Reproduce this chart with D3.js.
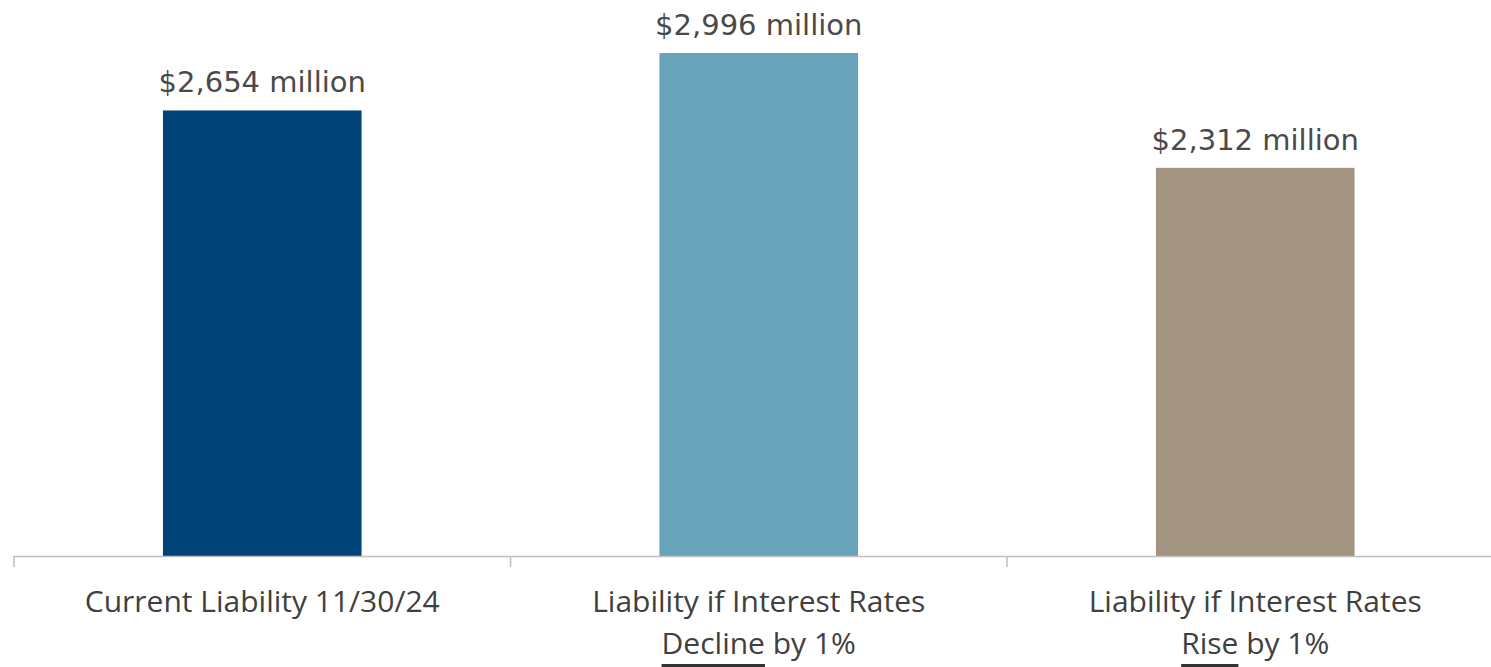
<!DOCTYPE html>
<html>
<head>
<meta charset="utf-8">
<script src="https://cdn.jsdelivr.net/npm/d3@7"></script>
<style>
  html, body { margin: 0; padding: 0; background: #ffffff; }
  svg { display: block; }
</style>
</head>
<body>
<svg id="chart" width="1491" height="667"></svg>
<script>
// Pension liability under interest-rate scenarios ($ millions)
const categories = ["current", "decline", "rise"];
const labelLine1 = ["Current Liability 11/30/24", "Liability if Interest Rates", "Liability if Interest Rates"];
const labelLine2Underlined = ["", "Decline", "Rise"];
const labelLine2Rest = ["", " by 1%", " by 1%"];
const values = [2654, 2996, 2312];
const barColors = ["#004379", "#68a3bb", "#a39381"];

const svg = d3.select("#chart");

const x = d3.scaleBand()
  .domain(categories)
  .range([14, 1503.5])
  .paddingInner(0.6)
  .paddingOuter(0.3);

const y = d3.scaleLinear()
  .domain([0, 3300])
  .range([556, 2]);

// bars
svg.append("g").selectAll("rect")
  .data(values)
  .join("rect")
  .attr("x", (d, i) => x(categories[i]))
  .attr("width", x.bandwidth())
  .attr("y", d => y(d))
  .attr("height", d => y(0) - y(d))
  .attr("fill", (d, i) => barColors[i]);

// value labels
svg.append("g").selectAll("text")
  .data(values)
  .join("text")
  .attr("x", (d, i) => x(categories[i]) + x.bandwidth() / 2)
  .attr("y", d => y(d) - 18)
  .attr("text-anchor", "middle")
  .attr("font-family", "'DejaVu Sans', sans-serif")
  .attr("font-size", 29)
  .attr("fill", "#4a4a4a")
  .text(d => "$" + d3.format(",")(d) + " million");

// baseline axis with ticks at band edges
const axisG = svg.append("g").attr("stroke", "#bfbfbf").attr("stroke-width", 1.5);
axisG.append("line")
  .attr("x1", x.range()[0]).attr("x2", x.range()[1])
  .attr("y1", y(0) + 0.5).attr("y2", y(0) + 0.5);
const step = x.step();
const edges = d3.range(categories.length + 1).map(i => x.range()[0] + i * step);
axisG.selectAll("line.tick")
  .data(edges)
  .join("line")
  .attr("class", "tick")
  .attr("x1", d => d).attr("x2", d => d)
  .attr("y1", y(0)).attr("y2", y(0) + 11);

// category labels
const catG = svg.append("g")
  .attr("font-family", "'Open Sans', sans-serif")
  .attr("font-size", 30)
  .attr("fill", "#404040");

categories.forEach((c, i) => {
  const cx = x(c) + x.bandwidth() / 2;
  catG.append("text")
    .attr("x", cx).attr("y", 612)
    .attr("text-anchor", "middle")
    .text(labelLine1[i]);
  if (labelLine2Underlined[i]) {
    const t = catG.append("text")
      .attr("x", cx).attr("y", 654)
      .attr("text-anchor", "middle");
    const u = t.append("tspan").text(labelLine2Underlined[i]);
    t.append("tspan").text(labelLine2Rest[i]);
    // underline under the emphasised word
    const x0 = t.node().getStartPositionOfChar(0).x;
    const w = u.node().getComputedTextLength();
    catG.append("line")
      .attr("x1", x0).attr("x2", x0 + w)
      .attr("y1", 665.5).attr("y2", 665.5)
      .attr("stroke", "#333333")
      .attr("stroke-width", 3);
  }
});
</script>
</body>
</html>
